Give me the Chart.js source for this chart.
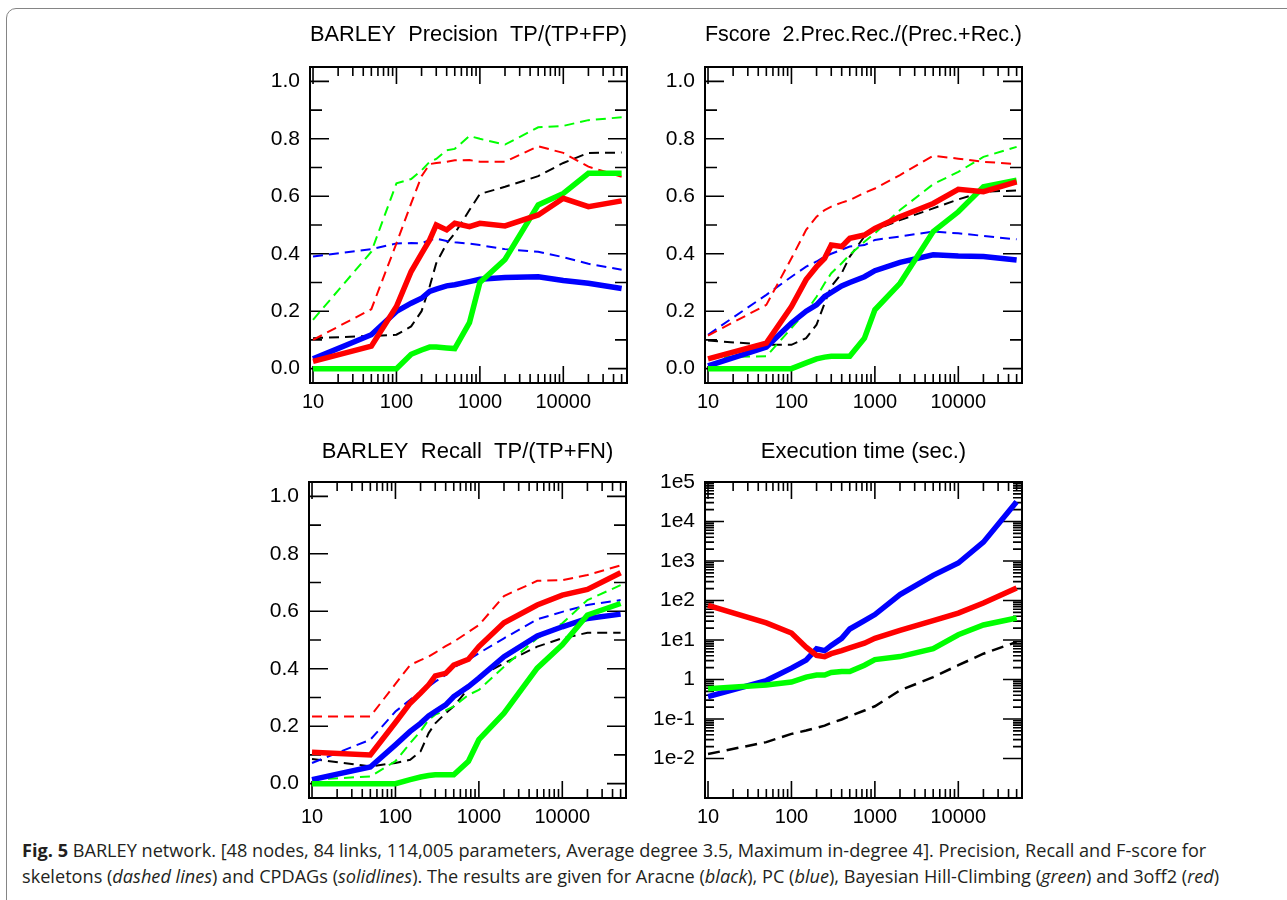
<!DOCTYPE html>
<html>
<head>
<meta charset="utf-8">
<script src="https://cdn.jsdelivr.net/npm/chart.js@4.4.1/dist/chart.umd.min.js"></script>
<style>
  body { margin: 0; background: #fff; width: 1287px; height: 900px; overflow: hidden; position: relative; }
  .frame { position: absolute; left: 6px; top: 8px; width: 1320px; height: 940px; border: 1.5px solid #858585; border-radius: 10px 0 0 0; box-sizing: border-box; }
  canvas { position: absolute; }
  #c1 { left: 240px; top: 8px; }
  #c2 { left: 635px; top: 8px; }
  #c3 { left: 239px; top: 423px; }
  #c4 { left: 635px; top: 423px; }
  .cap { position: absolute; left: 22px; top: 837px; font-family: "Open Sans", sans-serif; font-size: 16px; line-height: 26px; color: #231f20; white-space: nowrap; }
  .cap div { display: table; }
</style>
</head>
<body>
<div class="frame"></div>
<canvas id="c1" width="420" height="412"></canvas>
<canvas id="c2" width="420" height="412"></canvas>
<canvas id="c3" width="420" height="412"></canvas>
<canvas id="c4" width="420" height="412"></canvas>
<div class="cap" id="cap">
  <div id="line1"><b>Fig. 5</b> BARLEY network. [48 nodes, 84 links, 114,005 parameters, Average degree 3.5, Maximum in-degree 4]. Precision, Recall and F-score for</div>
  <div>skeletons (<i>dashed lines</i>) and CPDAGs (<i>solidlines</i>). The results are given for Aracne (<i>black</i>), PC (<i>blue</i>), Bayesian Hill-Climbing (<i>green</i>) and 3off2 (<i>red</i>)</div>
</div>
<script>
// sample sizes (x axis)
const sizes = [10, 50, 100, 150, 200, 250, 300, 400, 500, 750, 1000, 2000, 5000, 10000, 20000, 50000];

// precision - skeletons (dashed) and CPDAGs (solid)
const precAracneSkel = [0.106, 0.114, 0.118, 0.147, 0.20, 0.286, 0.367, 0.436, 0.471, 0.552, 0.608, 0.633, 0.670, 0.716, 0.751, 0.752];
const precPCSkel = [0.39, 0.416, 0.436, 0.437, 0.436, 0.448, 0.453, 0.444, 0.44, 0.435, 0.43, 0.416, 0.407, 0.388, 0.365, 0.344];
const precHCSkel = [0.17, 0.407, 0.645, 0.66, 0.69, 0.72, 0.73, 0.76, 0.765, 0.81, 0.80, 0.78, 0.84, 0.845, 0.865, 0.875];
const prec3off2Skel = [0.10, 0.207, 0.436, 0.575, 0.67, 0.712, 0.716, 0.72, 0.725, 0.726, 0.72, 0.72, 0.774, 0.751, 0.703, 0.668];
const precPC = [0.034, 0.118, 0.199, 0.228, 0.245, 0.269, 0.277, 0.288, 0.292, 0.303, 0.311, 0.317, 0.32, 0.307, 0.297, 0.279];
const precHC = [0, 0, 0, 0.05, 0.065, 0.075, 0.075, 0.072, 0.07, 0.16, 0.30, 0.38, 0.57, 0.61, 0.68, 0.68];
const prec3off2 = [0.025, 0.078, 0.216, 0.338, 0.40, 0.448, 0.50, 0.483, 0.506, 0.494, 0.506, 0.497, 0.535, 0.593, 0.564, 0.584];

// F-score
const fAracneSkel = [0.098, 0.083, 0.083, 0.106, 0.153, 0.228, 0.286, 0.332, 0.39, 0.46, 0.483, 0.517, 0.558, 0.589, 0.616, 0.62];
const fPCSkel = [0.118, 0.257, 0.32, 0.355, 0.373, 0.39, 0.40, 0.414, 0.425, 0.43, 0.448, 0.46, 0.477, 0.471, 0.462, 0.45];
const fHCSkel = [0.04, 0.043, 0.141, 0.2, 0.25, 0.297, 0.332, 0.367, 0.396, 0.442, 0.471, 0.552, 0.642, 0.685, 0.737, 0.772];
const f3off2Skel = [0.115, 0.222, 0.384, 0.483, 0.529, 0.552, 0.564, 0.578, 0.587, 0.612, 0.627, 0.674, 0.741, 0.731, 0.72, 0.712];
const fPC = [0.01, 0.075, 0.159, 0.2, 0.222, 0.251, 0.265, 0.288, 0.30, 0.32, 0.341, 0.37, 0.396, 0.392, 0.39, 0.378];
const fHC = [0, 0, 0, 0.02, 0.034, 0.04, 0.043, 0.043, 0.043, 0.106, 0.205, 0.297, 0.477, 0.546, 0.633, 0.656];
const f3off2 = [0.034, 0.089, 0.216, 0.31, 0.355, 0.384, 0.43, 0.425, 0.454, 0.465, 0.488, 0.529, 0.575, 0.624, 0.616, 0.65];

// recall
const recAracneSkel = [0.086, 0.06, 0.072, 0.083, 0.112, 0.176, 0.21, 0.245, 0.269, 0.332, 0.373, 0.419, 0.477, 0.506, 0.525, 0.525];
const recPCSkel = [0.072, 0.153, 0.251, 0.292, 0.32, 0.338, 0.355, 0.378, 0.405, 0.431, 0.454, 0.506, 0.572, 0.598, 0.622, 0.639];
const recHCSkel = [0.014, 0.025, 0.078, 0.141, 0.182, 0.222, 0.24, 0.255, 0.269, 0.309, 0.326, 0.407, 0.506, 0.558, 0.639, 0.691];
const rec3off2Skel = [0.234, 0.234, 0.347, 0.413, 0.43, 0.442, 0.456, 0.479, 0.494, 0.528, 0.552, 0.653, 0.706, 0.708, 0.726, 0.76];
const recPC = [0.014, 0.058, 0.135, 0.182, 0.21, 0.236, 0.251, 0.274, 0.303, 0.338, 0.367, 0.442, 0.514, 0.546, 0.575, 0.59];
const recHC = [0, 0, 0, 0.014, 0.023, 0.028, 0.031, 0.031, 0.031, 0.078, 0.153, 0.245, 0.402, 0.483, 0.587, 0.627];
const rec3off2 = [0.109, 0.10, 0.213, 0.28, 0.315, 0.344, 0.375, 0.384, 0.413, 0.433, 0.477, 0.56, 0.622, 0.656, 0.676, 0.734];

// execution time (sec.)
const timeAracne = [0.013, 0.026, 0.042, 0.051, 0.06, 0.068, 0.08, 0.097, 0.118, 0.164, 0.21, 0.53, 1.15, 2.3, 4.5, 8.9];
const timePC = [0.37, 0.94, 1.94, 3.1, 6, 5.4, 7.3, 11, 19, 31, 44, 141, 434, 890, 3000, 31600];
const timeHC = [0.58, 0.73, 0.86, 1.15, 1.3, 1.3, 1.5, 1.6, 1.6, 2.3, 3.2, 3.8, 6, 13.6, 24, 36];
const time3off2 = [75, 27, 15, 6.6, 4.1, 3.8, 4.5, 5.4, 6.3, 8.3, 11, 17.5, 31, 48, 86, 207];

// tick labels
const xTickValues = [10, 100, 1000, 10000];
const linTickValues = [0, 0.2, 0.4, 0.6, 0.8, 1.0];
const logTickValues = [1e-2, 1e-1, 1, 1e1, 1e2, 1e3, 1e4, 1e5];
const logTickLabels = ['1e-2', '1e-1', '1', '1e1', '1e2', '1e3', '1e4', '1e5'];

const RED = '#ff0000', GREEN = '#00ff00', BLUE = '#0000ff', BLACK = '#000000';
const FONT = 'Liberation Sans, Arial, sans-serif';

function logMinors(lo, hi) {
    const out = [];
    for (let d = lo; d < hi; d++) {
        for (let k = 2; k <= 9; k++) out.push(k * Math.pow(10, d));
    }
    return out;
}

// inward ticks on all four sides + box frame
const frameTicks = {
    id: 'frameTicks',
    beforeDatasetsDraw(chart) {
        const { ctx, chartArea: a } = chart;
        const x = chart.scales.x, y = chart.scales.y;
        const isLog = y.type === 'logarithmic';
        ctx.save();
        ctx.strokeStyle = '#000';
        ctx.lineWidth = 1.6;
        ctx.beginPath();
        const tickX = (v, len) => {
            const p = x.getPixelForValue(v);
            ctx.moveTo(p, a.top); ctx.lineTo(p, a.top + len);
            ctx.moveTo(p, a.bottom); ctx.lineTo(p, a.bottom - len);
        };
        const tickY = (v, len) => {
            const p = y.getPixelForValue(v);
            ctx.moveTo(a.left, p); ctx.lineTo(a.left + len, p);
            ctx.moveTo(a.right, p); ctx.lineTo(a.right - len, p);
        };
        xTickValues.forEach(v => tickX(v, 17));
        logMinors(0, 5).filter(v => v > x.min && v < x.max).forEach(v => tickX(v, 9));
        if (isLog) {
            logTickValues.forEach(v => tickY(v, 19));
            logMinors(-2, 5).forEach(v => tickY(v, 9));
        } else {
            linTickValues.forEach(v => tickY(v, 19));
            [0.1, 0.3, 0.5, 0.7, 0.9].forEach(v => tickY(v, 12));
        }
        ctx.stroke();
        ctx.lineWidth = 2;
        ctx.strokeRect(a.left, a.top, a.right - a.left, a.bottom - a.top);
        ctx.restore();
    }
};

function line(values, color, dashed, width) {
    return {
        data: sizes.map((s, i) => ({ x: s, y: values[i] })),
        borderColor: color,
        borderWidth: width || (dashed ? 2 : 5.5),
        borderDash: dashed ? [10, 6] : [],
        pointRadius: 0,
        tension: 0,
        fill: false
    };
}

function createChart(id, title, datasets, opts) {
    const isLog = opts.log;
    return new Chart(document.getElementById(id), {
        type: 'line',
        data: { datasets: datasets },
        plugins: [frameTicks],
        options: {
            responsive: false,
            animation: false,
            layout: { padding: { left: 0, right: 33, top: opts.titleTop, bottom: 0 } },
            plugins: {
                legend: { display: false },
                tooltip: { enabled: false },
                title: {
                    display: true,
                    text: title,
                    fullSize: false,
                    color: '#000',
                    font: { family: FONT, size: 22, weight: 'normal' },
                    padding: { top: 0, bottom: 59 - opts.titleTop - 26.4 }
                }
            },
            scales: {
                x: {
                    type: 'logarithmic',
                    min: 9.2,
                    max: 58000,
                    grid: { display: false, drawTicks: false },
                    border: { display: false },
                    afterBuildTicks: s => { s.ticks = xTickValues.map(v => ({ value: v })); },
                    afterFit: s => { s.height = 37; },
                    ticks: {
                        autoSkip: false,
                        maxRotation: 0,
                        padding: 7,
                        color: '#000',
                        font: { family: FONT, size: 20 },
                        callback: v => String(v)
                    }
                },
                y: {
                    type: isLog ? 'logarithmic' : 'linear',
                    min: isLog ? 1e-3 : -0.05,
                    max: isLog ? 1e5 : 1.05,
                    grid: { display: false, drawTicks: false },
                    border: { display: false },
                    afterBuildTicks: s => {
                        s.ticks = (isLog ? logTickValues : linTickValues).map(v => ({ value: v }));
                    },
                    afterFit: s => { s.width = 70; },
                    ticks: {
                        autoSkip: false,
                        padding: 10,
                        color: '#000',
                        font: { family: FONT, size: 21 },
                        callback: v => isLog ? logTickLabels[logTickValues.indexOf(v)] : v.toFixed(1)
                    }
                }
            }
        }
    });
}

createChart('c1', 'BARLEY  Precision  TP/(TP+FP)', [
    line(prec3off2, RED, false),
    line(precHC, GREEN, false),
    line(precPC, BLUE, false),
    line(prec3off2Skel, RED, true),
    line(precHCSkel, GREEN, true),
    line(precPCSkel, BLUE, true),
    line(precAracneSkel, BLACK, true)
], { titleTop: 14 });

createChart('c2', 'Fscore  2.Prec.Rec./(Prec.+Rec.)', [
    line(f3off2, RED, false),
    line(fHC, GREEN, false),
    line(fPC, BLUE, false),
    line(f3off2Skel, RED, true),
    line(fHCSkel, GREEN, true),
    line(fPCSkel, BLUE, true),
    line(fAracneSkel, BLACK, true)
], { titleTop: 14 });

createChart('c3', 'BARLEY  Recall  TP/(TP+FN)', [
    line(rec3off2, RED, false),
    line(recHC, GREEN, false),
    line(recPC, BLUE, false),
    line(rec3off2Skel, RED, true),
    line(recHCSkel, GREEN, true),
    line(recPCSkel, BLUE, true),
    line(recAracneSkel, BLACK, true)
], { titleTop: 16 });

const timeDashed = line(timeAracne, BLACK, true, 2.5);
timeDashed.borderDash = [12, 7];
createChart('c4', 'Execution time (sec.)', [
    line(time3off2, RED, false),
    line(timeHC, GREEN, false),
    line(timePC, BLUE, false),
    timeDashed
], { titleTop: 16, log: true });

// fit the caption's first line to the figure width
const cap = document.getElementById('cap');
const w1 = document.getElementById('line1').getBoundingClientRect().width;
cap.style.fontSize = (16 * 1185 / w1).toFixed(2) + 'px';
</script>
</body>
</html>
